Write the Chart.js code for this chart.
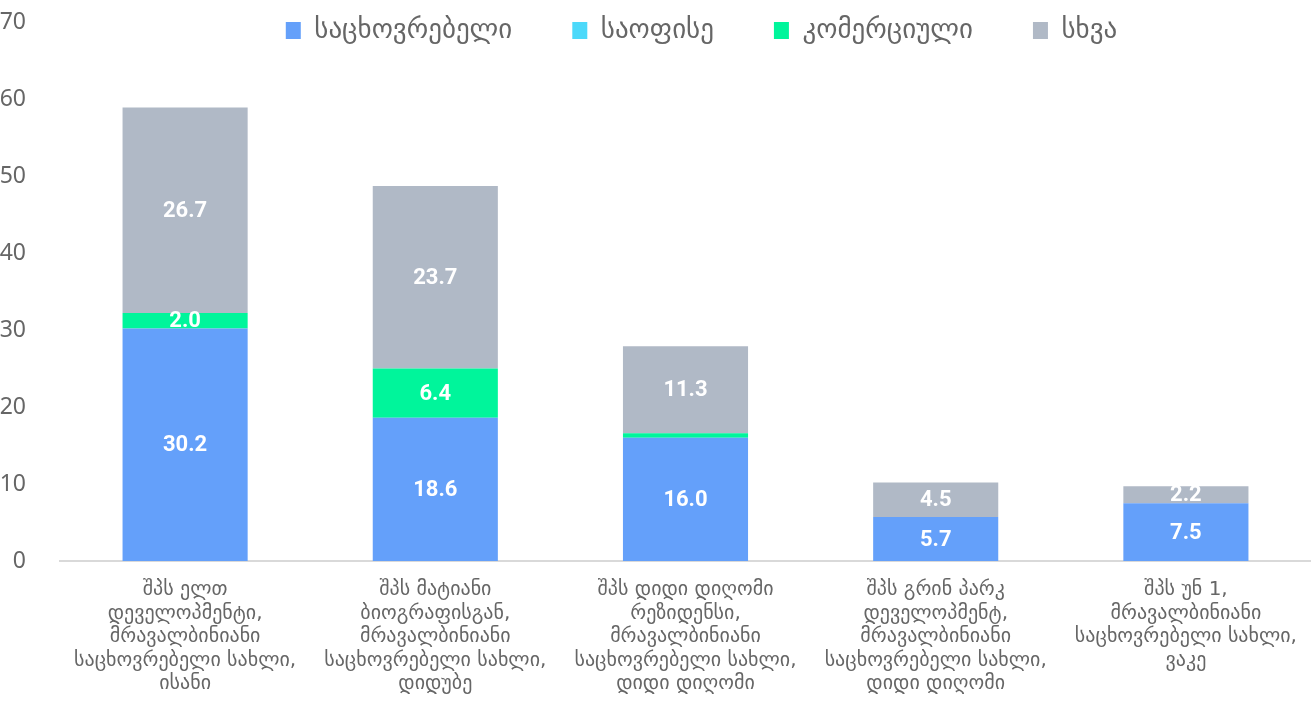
<!DOCTYPE html>
<html>
<head>
<meta charset="utf-8">
<script src="https://cdn.jsdelivr.net/npm/chart.js@4/dist/chart.umd.min.js"></script>
<style>
  html, body { margin: 0; padding: 0; background: #fff; }
  #wrap { width: 1311px; height: 709px; position: relative; }
</style>
</head>
<body>
<div id="wrap"><canvas id="barChart"></canvas></div>
<script>
const categories = [
	['შპს ელთ', 'დეველოპმენტი,', 'მრავალბინიანი', 'საცხოვრებელი სახლი,', 'ისანი'],
	['შპს მატიანი', 'ბიოგრაფისგან,', 'მრავალბინიანი', 'საცხოვრებელი სახლი,', 'დიდუბე'],
	['შპს დიდი დიღომი', 'რეზიდენსი,', 'მრავალბინიანი', 'საცხოვრებელი სახლი,', 'დიდი დიღომი'],
	['შპს გრინ პარკ', 'დეველოპმენტ,', 'მრავალბინიანი', 'საცხოვრებელი სახლი,', 'დიდი დიღომი'],
	['შპს უნ 1,', 'მრავალბინიანი', 'საცხოვრებელი სახლი,', 'ვაკე']
];
const residential = [30.2, 18.6, 16.0, 5.7, 7.5];
const office = [0, 0, 0, 0, 0];
const commercial = [2.0, 6.4, 0.6, 0, 0];
const other = [26.7, 23.7, 11.3, 4.5, 2.2];
const seriesNames = ['საცხოვრებელი', 'საოფისე', 'კომერციული', 'სხვა'];
const yTicks = [0, 10, 20, 30, 40, 50, 60, 70];

const colors = ['#64a0fa', '#4cd9fa', '#00f59b', '#b0b9c6'];
const legendGap = 60;

// value labels inside the segments
const segmentLabels = {
	id: 'segmentLabels',
	afterDatasetsDraw(chart) {
		const ctx = chart.ctx;
		ctx.save();
		ctx.fillStyle = '#ffffff';
		ctx.font = 'bold 22px Roboto, "Noto Sans", sans-serif';
		ctx.textAlign = 'center';
		ctx.textBaseline = 'middle';
		chart.data.datasets.forEach((ds, di) => {
			const meta = chart.getDatasetMeta(di);
			meta.data.forEach((bar, i) => {
				const v = ds.data[i];
				if (!v || v < 1) return;
				const mid = (bar.y + bar.base) / 2;
				ctx.fillText(v.toFixed(1), bar.x, mid + 1);
			});
		});
		ctx.restore();
	}
};

// legend sits over the top of the plot, so it takes no room in the layout
const legendOverlay = {
	id: 'legendOverlay',
	afterInit(chart) {
		const lg = chart.legend;
		const fit = lg.fit;
		lg.fit = function () { fit.call(this); this.height = 0; };
	},
	afterLayout(chart) {
		const lg = chart.legend;
		lg.top = 31 - legendGap - 14;
		lg.bottom = 80;
		lg.left += 46;
		lg.right += 46;
	}
};

const chartEle = document.getElementById('barChart');
const barChart = new Chart(chartEle, {
	type: 'bar',
	data: {
		labels: categories,
		datasets: [residential, office, commercial, other].map((d, i) => {
			return {
				label: seriesNames[i],
				data: d,
				backgroundColor: colors[i],
				barPercentage: 0.5,
				categoryPercentage: 1
			};
		})
	},
	options: {
		responsive: true,
		maintainAspectRatio: false,
		animation: false,
		layout: { padding: { top: 22, right: 0, left: 0, bottom: 4 } },
		plugins: {
			tooltip: { enabled: false },
			legend: {
				position: 'top',
				align: 'center',
				labels: {
					boxWidth: 15,
					boxHeight: 17,
					padding: legendGap,
					color: '#666666',
					font: { size: 27, family: '"DejaVu Sans", "Noto Sans", sans-serif' }
				}
			}
		},
		scales: {
			x: {
				stacked: true,
				grid: { display: false },
				border: { display: true, color: '#d9d9d9', width: 2 },
				ticks: {
					color: '#666666',
					maxRotation: 0,
					autoSkip: false,
					padding: 9,
					font: { size: 20, family: '"DejaVu Sans", "Noto Sans", sans-serif', lineHeight: 1.18 }
				}
			},
			y: {
				stacked: true,
				min: yTicks[0],
				max: yTicks[yTicks.length - 1],
				afterFit(scale) {
					scale.width = 60;
					scale.paddingTop = 0;
					scale.paddingBottom = 0;
				},
				grid: { display: false },
				border: { display: false },
				ticks: {
					stepSize: 10,
					color: '#666666',
					padding: 26,
					font: { size: 23, family: '"Noto Sans", sans-serif' }
				}
			}
		}
	},
	plugins: [legendOverlay, segmentLabels]
});
</script>
</body>
</html>
